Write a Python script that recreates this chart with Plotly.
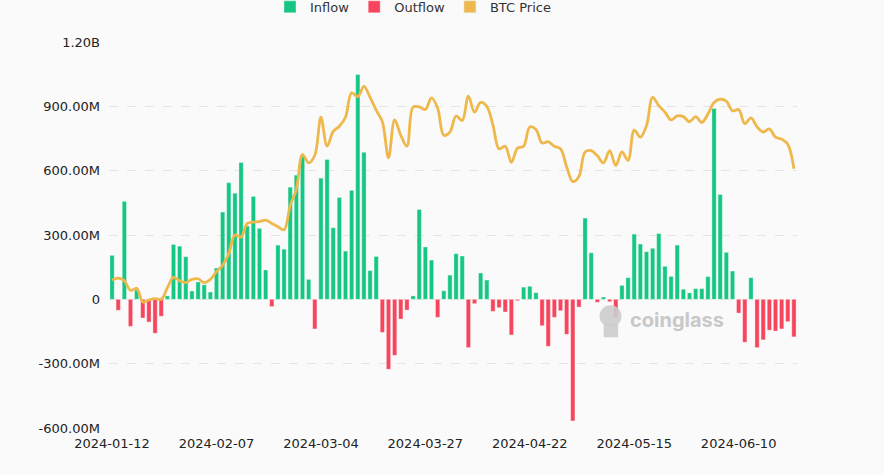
import pandas as pd
import plotly.graph_objects as go

# Trading-day categories (US market days)
holidays = ["2024-01-15", "2024-02-19", "2024-03-29", "2024-05-27", "2024-06-19"]
dates = [d.strftime("%Y-%m-%d") for d in
         pd.bdate_range("2024-01-12", "2024-06-24", freq="C", holidays=holidays)]

# Net flow, millions USD
net_flow_m = [
    205, -51, 457, -126, 43, -87, -106, -158, -79, 16,
    256, 248, 199, 39, 81, 68, 34, 146, 407, 544,
    495, 638, 342, 480, 331, 137, -34, 253, 234, 523,
    579, 672, 93, -138, 565, 652, 334, 475, 225, 508,
    1048, 686, 134, 200, -154, -326, -261, -92, -50, 16,
    419, 244, 183, -84, 40, 113, 213, 202, -225, -20,
    123, 90, -56, -39, -59, -166, -6, 57, 61, 31,
    -123, -219, -84, -53, -163, -567, -36, 379, 217, -14,
    11, -11, -85, 65, 101, 304, 258, 222, 238, 307,
    154, 107, 253, 47, 30, 50, 50, 106, 890, 489,
    219, 132, -64, -200, 101, -225, -189, -144, -148, -138,
    -104, -175,
]

# BTC price, thousands USD
btc_price_k = [
    43.0, 43.3, 42.9, 41.4, 41.7, 39.6, 39.9, 40.1, 40.0, 41.8,
    43.4, 42.9, 42.6, 43.1, 43.2, 42.6, 43.1, 44.3, 45.3, 47.1,
    50.0, 49.7, 51.8, 52.0, 52.1, 52.3, 51.8, 51.3, 50.8, 54.6,
    57.1, 62.5, 61.2, 62.4, 68.3, 63.8, 66.1, 66.9, 68.3, 72.1,
    71.5, 73.1, 71.4, 69.4, 67.6, 62.0, 67.9, 65.5, 63.8, 69.9,
    69.9, 69.5, 71.3, 69.7, 65.5, 66.0, 68.5, 67.8, 71.6, 69.1,
    70.6, 70.0, 67.1, 63.4, 63.8, 61.3, 63.5, 63.8, 66.8, 66.4,
    64.3, 64.5, 63.8, 63.4, 60.6, 58.3, 59.1, 62.9, 63.1, 62.3,
    61.2, 63.1, 60.8, 62.9, 61.6, 66.3, 65.2, 67.0, 71.4, 70.1,
    69.1, 67.9, 68.5, 68.4, 67.6, 68.4, 67.5, 68.8, 70.6, 71.1,
    70.8, 69.3, 69.5, 67.3, 68.2, 66.8, 66.0, 66.5, 65.2, 64.9,
    64.1, 60.3,
]

y_tickvals = [-600e6, -300e6, 0, 300e6, 600e6, 900e6, 1.2e9]
y_ticktext = ["-600.00M", "-300.00M", "0", "300.00M", "600.00M", "900.00M", "1.20B"]
x_tick_idx = [0, 17, 34, 51, 68, 85, 102]

GREEN = "#16c784"
RED = "#f6465d"
GOLD = "#eeb84c"
FONT = "DejaVu Sans, sans-serif"

inflow = [v * 1e6 if v >= 0 else None for v in net_flow_m]
outflow = [v * 1e6 if v < 0 else None for v in net_flow_m]
price = [p * 1000 for p in btc_price_k]

fig = go.Figure()
fig.add_trace(go.Bar(x=dates, y=inflow, name="Inflow", marker_color=GREEN,
                     marker_line=dict(color="rgba(255,255,255,0.45)", width=0.8)))
fig.add_trace(go.Bar(x=dates, y=outflow, name="Outflow", marker_color=RED,
                     marker_line=dict(color="rgba(255,255,255,0.45)", width=0.8)))
fig.add_trace(go.Bar(x=[dates[0]], y=[None], name="BTC Price", marker_color=GOLD))
fig.add_trace(go.Scatter(x=dates, y=price, name="BTC Price", yaxis="y2", mode="lines",
                         line=dict(color=GOLD, width=2.8, shape="spline", smoothing=1.0),
                         showlegend=False))

fig.update_layout(
    width=884, height=475,
    margin=dict(l=109, r=87, t=42, b=47, autoexpand=False),
    paper_bgcolor="#fafafa", plot_bgcolor="#fafafa",
    barmode="relative", bargap=0.3,
    font=dict(family=FONT, size=13, color="#222"),
    showlegend=True,
    legend=dict(orientation="h", x=0.234, xanchor="left", y=1.091, yanchor="middle",
                font=dict(family=FONT, size=13, color="#333"), bgcolor="rgba(0,0,0,0)",
                itemclick=False, tracegroupgap=0),
    xaxis=dict(type="category", categoryorder="array", categoryarray=dates,
               tickmode="array", tickvals=[dates[i] for i in x_tick_idx],
               ticktext=[dates[i] for i in x_tick_idx],
               showgrid=False, showline=False, zeroline=False, ticks="",
               tickfont=dict(family=FONT, size=13, color="#222"), ticklabelstandoff=6,
               range=[-0.5, len(dates) - 0.5]),
    yaxis=dict(range=[-600e6, 1.2e9], tickmode="array", tickvals=y_tickvals,
               ticktext=y_ticktext, showgrid=True, gridcolor="#e4e4e4",
               griddash="dash", gridwidth=1, zeroline=False, showline=False,
               ticks="", tickfont=dict(family=FONT, size=13, color="#222"),
               ticklabelstandoff=8),
    yaxis2=dict(range=[20000, 80000], overlaying="y", side="right", visible=False,
                showgrid=False),
    annotations=[dict(text="<b>coinglass</b>", x=0.826, y=0.28, xref="paper", yref="paper",
                      xanchor="center", yanchor="middle", showarrow=False,
                      font=dict(size=20, color="#c8c8c8", family="Inter, sans-serif"))],
    shapes=[
        dict(type="circle", xref="paper", yref="paper", x0=0.713, x1=0.745,
             y0=0.262, y1=0.318, fillcolor="#cccccc", line=dict(width=0), layer="above",
             opacity=0.9),
        dict(type="rect", xref="paper", yref="paper", x0=0.719, x1=0.740,
             y0=0.235, y1=0.27, fillcolor="#cccccc", line=dict(width=0), layer="above",
             opacity=0.9),
    ],
)

fig.write_html("out.html", config={"displayModeBar": False},
               post_script="document.body.style.margin='0';"
                           "document.body.style.background='#fafafa';")
